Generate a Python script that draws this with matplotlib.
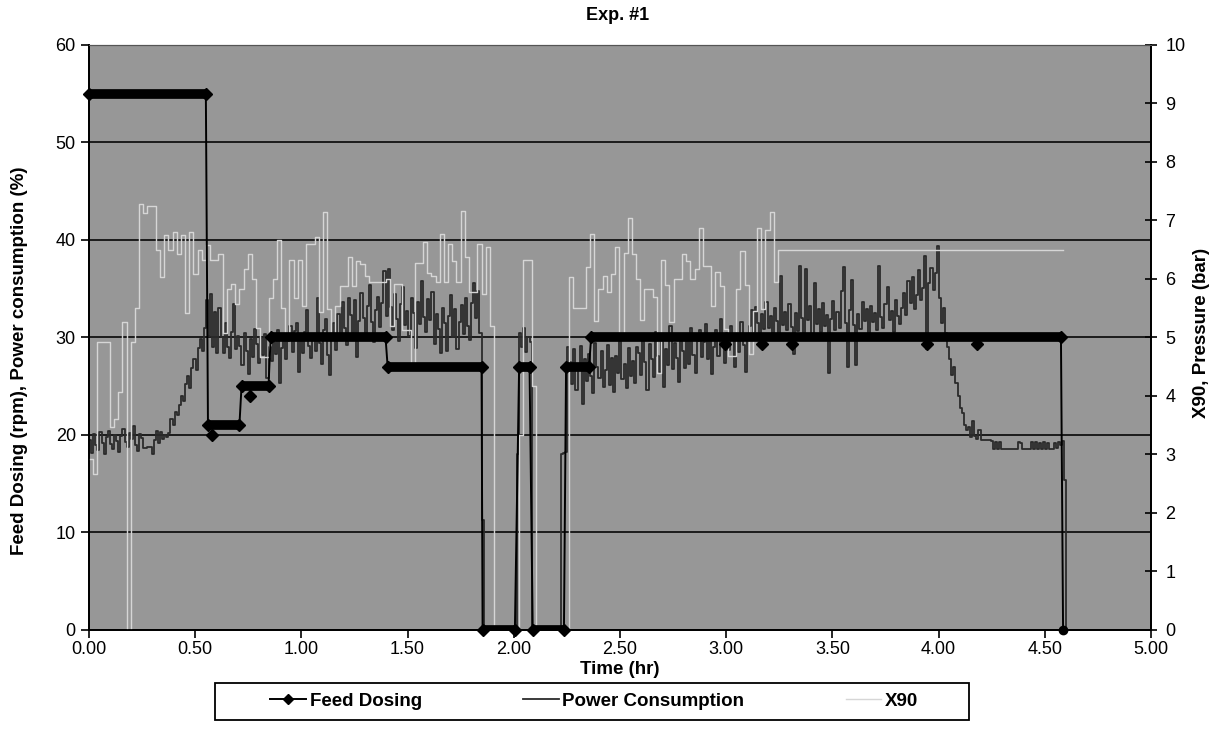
import numpy as np
import matplotlib
matplotlib.use('Agg')
import matplotlib.pyplot as plt
from matplotlib.patches import Rectangle

plt.rcParams['font.family'] = ['Liberation Sans', 'DejaVu Sans']

# Feed dosing (rpm): held levels, start and end time of each hold (hr)
feed_start = [0.000, 0.560, 0.718, 0.855, 1.406, 1.853, 2.025, 2.089, 2.246, 2.364]
feed_end = [0.550, 0.708, 0.845, 1.396, 1.848, 2.005, 2.074, 2.236, 2.354, 4.576]
feed_level = [55, 21, 25, 30, 27, 0, 27, 0, 27, 30]
feed_stop_t = 4.586
feed_stop_v = 0
# single off-level feed readings
feed_odd_t = [0.580, 0.757, 2.993, 3.170, 3.308, 3.947, 4.183]
feed_odd_v = [20, 24, 29.3, 29.3, 29.3, 29.3, 29.3]

# Power consumption (%), one reading every dt_power hr from t = 0
dt_power = 0.00983
power = [
    # start-up
    19.5, 18.2, 20.1, 19.0, 18.5, 20.3, 19.2, 18.0, 19.8, 20.4,
    19.1, 18.6, 20.0, 19.4, 18.3, 19.9, 20.6, 19.3, 18.8, 20.2,
    19.6, 20.9, 19.0, 18.4, 20.1, 19.7, 18.7, 18.7, 18.8, 18.8,
    18.0, 19.5, 20.4, 19.2, 20.3, 19.6, 20.0, 19.8,
    20.2, 21.6, 21.0, 22.4, 22.0, 23.1, 24.0, 23.5, 25.2, 26.0,
    24.8, 26.9, 27.8, 26.7, 28.9, 29.8, 28.6,
    31.0, 33.8, 30.2, 34.5, 29.0, 32.6, 28.4, 33.0,
    30.1, 28.4, 31.5, 29.0, 27.9, 30.6, 33.4, 28.8, 30.2, 29.1,
    27.2, 30.5, 28.6, 26.3, 29.8, 28.0, 30.9, 29.3, 27.4, 29.9,
    28.2, 30.4, 25.8, 29.0, 27.6, 29.5, 28.3, 30.8, 25.3, 28.9,
    30.0, 27.8, 29.6, 31.2, 28.5, 30.7, 31.5,
    26.5, 29.8, 28.4, 30.6, 32.8, 29.1, 27.9, 30.2, 28.6, 34.0,
    29.4, 27.3, 30.8, 31.9, 28.2, 26.2,
    29.8, 31.5, 28.7, 32.4, 30.1, 33.6, 31.0, 29.2, 34.1, 32.3,
    30.5, 33.8, 28.0, 31.7, 34.6, 32.0, 30.3, 33.2, 35.4, 31.6,
    29.5, 32.8, 34.2, 31.1, 33.5, 36.8, 32.2,
    37.0, 33.1, 30.8, 34.5, 31.9, 29.6, 33.4, 35.2, 31.3, 32.7,
    30.2, 34.0, 32.5, 28.9, 33.6, 31.4, 35.8, 32.1, 30.6, 33.9,
    31.8, 34.7, 29.3, 32.4, 30.9, 28.4, 33.0, 31.5, 28.6, 32.2,
    34.4, 30.1, 32.9, 28.8, 31.6, 33.3, 30.4, 34.1, 31.2, 29.7,
    33.5, 35.6, 32.0, 34.8, 30.5,
    # stops
    11.3, 0, 0, 0, 0, 0, 0, 0, 0, 0, 0, 0, 0, 0, 0, 0, 0,
    18.0, 30.5, 29.0, 31.0, 28.5, 30.0, 29.5,
    0, 0, 0, 0, 0, 0, 0, 0, 0, 0, 0, 0, 0, 0,
    18.0, 18.2, 18.3, 29.0,
    # restart
    27.5, 25.2, 28.8, 24.6, 26.9, 29.1, 23.2, 27.8, 25.5, 28.3,
    26.1, 24.3, 29.4, 27.0, 25.8, 28.6, 24.9, 26.7, 29.2, 25.1,
    27.9, 24.4, 28.1, 26.4, 29.6, 25.7, 27.3, 24.8, 28.9, 26.0,
    27.6, 25.3, 29.0,
    28.4, 26.2, 30.1, 27.5, 24.6, 29.3, 27.8, 25.9, 30.6, 28.1,
    26.5, 29.7, 24.9, 28.8, 27.2, 31.2, 26.8, 29.4, 27.9, 25.4,
    30.3, 28.6, 26.9, 29.8, 27.3, 31.0, 28.2, 26.4, 29.6, 30.8,
    28.0,
    29.5, 31.4, 27.8, 30.2, 26.3, 29.0, 30.8, 28.1, 31.9, 29.6,
    27.4, 30.5, 28.7, 31.2, 29.9, 27.0, 30.4, 28.5, 31.6, 29.2,
    26.5, 30.0,
    31.2, 32.8, 30.6, 33.1, 31.5, 29.8, 32.4, 30.9, 33.6, 31.0,
    32.2, 30.4, 33.0, 31.7, 29.9, 36.3, 31.3, 32.6, 30.8, 33.4,
    31.1, 28.3, 32.5, 30.7, 37.3, 32.0, 30.5, 37.0, 31.8, 33.2,
    30.2, 35.6, 31.4, 32.9, 30.6, 33.5, 31.2, 32.3, 26.4, 31.9,
    33.7, 30.8, 32.6, 31.0, 34.8, 37.2, 31.5, 27.0, 32.8, 35.9,
    31.3, 27.2, 32.4, 30.9, 33.6, 31.7, 32.9, 30.4, 33.2, 31.6,
    32.5, 30.8, 37.3, 32.1, 31.0, 33.4, 35.2, 31.8, 32.7, 30.6,
    33.8, 32.2, 31.4,
    33.0, 34.6, 32.3, 35.8, 33.5, 36.2, 32.9, 34.4, 36.9, 33.8,
    35.1, 38.4, 28.8, 35.6, 37.1, 34.9, 36.6, 39.4,
    # run-down
    34.0, 31.5, 33.0, 30.5, 29.0, 27.8, 26.2, 27.0, 25.3, 24.0,
    22.8, 22.3, 21.0, 20.5, 20.8, 19.8, 21.4, 19.9, 19.6, 20.5,
    19.5, 19.5, 19.5, 19.5, 19.5, 19.4,
    18.6, 19.3, 18.6, 19.3, 18.6, 18.6, 18.6, 18.6, 18.6, 18.6,
    18.6, 18.6, 19.3, 19.2, 18.6, 18.6, 18.6, 18.6, 19.3, 18.6,
    19.3, 18.6, 19.2, 18.6, 19.3, 18.6, 19.2, 18.6, 18.6, 19.2,
    18.7, 19.3, 19.0, 19.4, 15.4, 0, 0, 0,
]

# X90 (bar, right axis), one reading every dt_x90 hr from t = 0
dt_x90 = 0.01966
x90 = [
    2.92, 2.67, 4.92, 4.92, 4.92, 3.47, 3.60, 4.07, 5.27, 0.00,
    4.92, 5.50, 7.28, 7.13, 7.25, 7.25, 6.50, 6.03, 6.75, 6.50,
    6.80, 6.42, 6.75, 5.42, 6.80, 6.08, 6.50, 6.33, 6.58, 6.33,
    6.33, 6.42, 5.08, 5.83, 5.92, 5.58, 5.83, 6.17, 6.42, 6.00,
    5.17, 4.67, 4.67, 5.67, 6.00, 6.67, 5.50, 5.00, 6.33, 5.67,
    6.33, 5.53, 6.60, 6.60, 6.72, 5.43, 7.15, 5.48, 5.00, 5.53,
    5.88, 5.88, 6.38, 5.88, 6.30, 6.25, 6.05, 5.95, 5.95, 5.95,
    5.95, 6.00, 5.20, 5.92, 5.92, 5.13, 5.13, 4.55, 6.27, 6.27,
    6.63, 6.10, 6.05, 5.95, 6.77, 5.95, 6.60, 6.30, 5.95, 7.17,
    6.38, 5.78, 5.78, 6.60, 5.75, 6.55, 5.20, 0.00, 0.00, 0.00,
    0.00, 0.00, 0.00, 3.33, 6.33, 6.33, 4.17, 0.00, 0.00, 0.00,
    0.00, 0.00, 0.00, 0.00, 0.00, 6.03, 5.50, 5.50, 5.50, 6.20,
    6.77, 5.28, 5.83, 6.05, 5.77, 6.08, 6.55, 5.03, 6.45, 7.05,
    6.42, 6.00, 5.30, 5.83, 5.83, 5.70, 4.40, 6.33, 5.90, 5.27,
    6.00, 6.00, 6.43, 6.30, 6.00, 6.17, 6.87, 6.23, 6.23, 5.53,
    6.12, 5.88, 5.15, 4.68, 4.68, 5.83, 6.48, 5.90, 4.72, 5.45,
    6.87, 5.48, 6.83, 7.15, 5.95, 6.50,
]
# X90 then holds until the mill stops
x90_hold_t = 4.586
x90_hold_v = 6.50

t_power = np.arange(len(power)) * dt_power
t_x90 = np.append(np.arange(len(x90)) * dt_x90, x90_hold_t)
x90_line = np.append(x90, x90_hold_v)

fig = plt.figure(figsize=(12.28, 7.46), dpi=100)
ax = fig.add_axes([0.0725, 0.1555, 0.8648, 0.7842])
ax2 = ax.twinx()
ax.set_xlim(0, 5)
ax.set_ylim(0, 60)
ax2.set_ylim(0, 10)
ax.set_facecolor('#979797')

# horizontal gridlines
ax.set_yticks(range(0, 61, 10))
ax.grid(axis='y', color='#111111', linewidth=1.3, zorder=1)
ax.set_axisbelow(True)

# power consumption
l_power, = ax.plot(t_power, power, drawstyle='steps-post', color='#2b2b2b',
                   linewidth=1.3, zorder=2)
# X90 drawn in right-axis units but layered between power and feed
l_x90, = ax.plot(t_x90, x90_line, drawstyle='steps-post', color='#d6d6d6',
                 linewidth=1.0, zorder=3, transform=ax2.transData)

# feed dosing: connecting line, thick holds and diamond ends
fx, fy = [], []
for s, e, v in zip(feed_start, feed_end, feed_level):
    fx += [s, e]
    fy += [v, v]
fx.append(feed_stop_t)
fy.append(feed_stop_v)
ax.plot(fx, fy, color='black', linewidth=1.4, zorder=4)
ax.hlines(feed_level, feed_start, feed_end, color='black', linewidth=7,
          zorder=5)
ax.plot(feed_start + feed_end, feed_level + feed_level, 'D', color='black',
        markersize=6.5, zorder=5, clip_on=False)
ax.plot(feed_odd_t, feed_odd_v, 'D', color='black', markersize=6, zorder=5)
ax.plot([feed_stop_t], [feed_stop_v], 'o', color='black', markersize=6,
        zorder=5, clip_on=False)

# axes styling
tick_font = {'size': 13}
ax.set_xticks(np.arange(0, 5.01, 0.5))
ax.set_xticklabels(['%.2f' % v for v in np.arange(0, 5.01, 0.5)], fontdict=tick_font)
ax.set_yticklabels([str(v) for v in range(0, 61, 10)], fontdict=tick_font)
ax2.set_yticks(range(0, 11))
ax2.set_yticklabels([str(v) for v in range(0, 11)], fontdict=tick_font)
ax.tick_params(axis='both', direction='out', length=6, width=1.2, colors='black')
ax.tick_params(axis='x', pad=2)
ax2.tick_params(axis='y', direction='inout', length=9, width=1.2, pad=6)

for a in (ax, ax2):
    for side in ('left', 'right', 'bottom'):
        a.spines[side].set_linewidth(1.3)
        a.spines[side].set_color('black')
    a.spines['top'].set_color('#555555')
    a.spines['top'].set_linewidth(0.8)

ax.set_xlabel('Time (hr)', fontsize=13.5, fontweight='bold', labelpad=2)
ax.set_ylabel('Feed Dosing (rpm), Power consumption (%)', fontsize=13.5,
              fontweight='bold')
ax.yaxis.set_label_coords(-0.057, 0.46)
ax2.set_ylabel('X90, Pressure (bar)', fontsize=13.5, fontweight='bold')
ax2.yaxis.set_label_coords(1.0395, 0.508)
fig.text(0.503, 0.99, 'Exp. #1', ha='center', va='top', fontsize=13,
         fontweight='bold')

# legend
h_feed, = ax.plot([], [], color='black', marker='D', markersize=5, linewidth=1.4)
leg = fig.legend([h_feed, l_power, l_x90],
                 ['Feed Dosing', 'Power Consumption', 'X90'],
                 loc='center', bbox_to_anchor=(0.484, 0.060),
                 ncol=3, frameon=False, borderaxespad=0, borderpad=0,
                 handlelength=1.9, handletextpad=0.2, columnspacing=5.4,
                 prop={'weight': 'bold', 'size': 13.5})
fig.patches.append(Rectangle((0.175, 0.035), 0.614, 0.0496, transform=fig.transFigure,
                             facecolor='none', edgecolor='black', linewidth=1.3))

fig.savefig('out.png', dpi=100, facecolor='white')
